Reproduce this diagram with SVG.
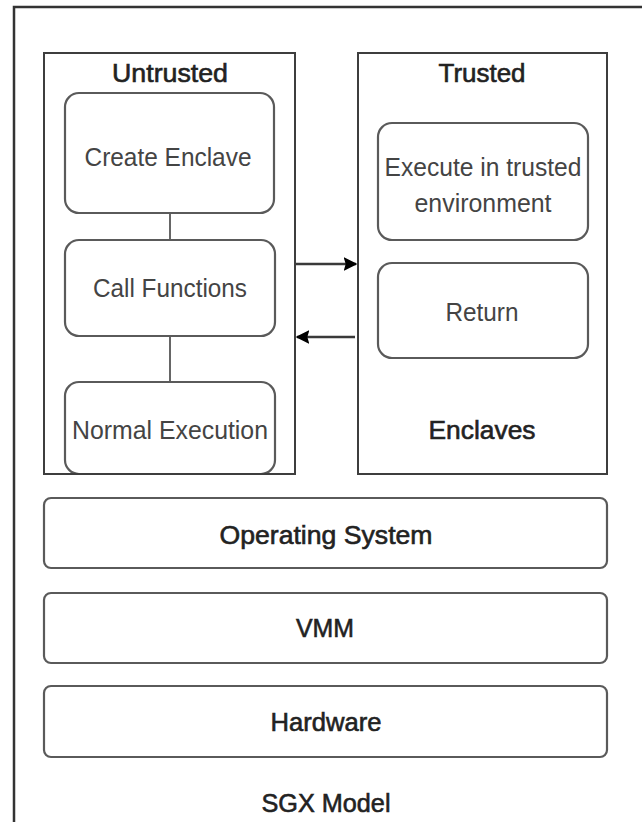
<svg xmlns="http://www.w3.org/2000/svg" width="642" height="822" viewBox="0 0 642 822">
<defs>
<style>
.frame{fill:none;stroke:#333;stroke-width:2.5}
.region{fill:none;stroke:#3e3e3e;stroke-width:2}
.box{fill:#fff;stroke:#5a5a5a;stroke-width:2.2}
.t{font-family:"Liberation Sans",Arial,sans-serif;font-size:26px;fill:#444;text-anchor:middle}
.b{font-family:"Liberation Sans",Arial,sans-serif;font-size:26px;fill:#222;stroke:#222;stroke-width:0.6;text-anchor:middle}
.link{stroke:#666;stroke-width:2;fill:none}
.arrow{stroke:#3a3a3a;stroke-width:2.5;fill:none}
</style>
<marker id="ah" viewBox="0 0 10 10" refX="9" refY="5" markerWidth="5.5" markerHeight="6.5" markerUnits="strokeWidth" orient="auto">
<path d="M0,0 L10,5 L0,10 L1.5,5 Z" fill="#000"/>
</marker>
</defs>
<rect width="642" height="822" fill="#fff"/>
<rect class="frame" x="14" y="7" width="650" height="840"/>

<g id="untrusted">
<rect class="region" x="44" y="53" width="251" height="421"/>
<text class="b" x="170" y="82" textLength="116" lengthAdjust="spacingAndGlyphs">Untrusted</text>
</g>
<g id="trusted">
<rect class="region" x="358" y="53" width="249" height="421"/>
<text class="b" x="482" y="82" textLength="87" lengthAdjust="spacingAndGlyphs">Trusted</text>
<text class="b" x="482" y="439" textLength="107" lengthAdjust="spacingAndGlyphs">Enclaves</text>
</g>

<g id="connectors">
<line class="link" x1="170" y1="213" x2="170" y2="240"/>
<line class="link" x1="170" y1="336" x2="170" y2="382"/>
<line class="arrow" x1="296" y1="264" x2="356" y2="264" marker-end="url(#ah)"/>
<line class="arrow" x1="355" y1="337" x2="297" y2="337" marker-end="url(#ah)"/>
</g>

<g id="create-enclave">
<rect class="box" x="65" y="93" width="209" height="120" rx="14"/>
<text class="t" x="168" y="166" textLength="167" lengthAdjust="spacingAndGlyphs">Create Enclave</text>
</g>
<g id="call-functions">
<rect class="box" x="65" y="240" width="210" height="96" rx="14"/>
<text class="t" x="170" y="297" textLength="154" lengthAdjust="spacingAndGlyphs">Call Functions</text>
</g>
<g id="normal-execution">
<rect class="box" x="65" y="382" width="210" height="92" rx="14"/>
<text class="t" x="170" y="439" textLength="196" lengthAdjust="spacingAndGlyphs">Normal Execution</text>
</g>
<line x1="44" y1="474" x2="295" y2="474" stroke="#3e3e3e" stroke-width="2"/>

<g id="execute-trusted">
<rect class="box" x="378" y="123" width="210" height="117" rx="14"/>
<text class="t" x="483" y="176" textLength="197" lengthAdjust="spacingAndGlyphs">Execute in trusted</text>
<text class="t" x="483" y="212" textLength="137" lengthAdjust="spacingAndGlyphs">environment</text>
</g>
<g id="return">
<rect class="box" x="378" y="263" width="210" height="95" rx="14"/>
<text class="t" x="482" y="321" textLength="73" lengthAdjust="spacingAndGlyphs">Return</text>
</g>

<g id="operating-system">
<rect class="box" x="44" y="498" width="563" height="70" rx="7"/>
<text class="b" x="326" y="544" textLength="213" lengthAdjust="spacingAndGlyphs">Operating System</text>
</g>
<g id="vmm">
<rect class="box" x="44" y="593" width="563" height="70" rx="7"/>
<text class="b" x="325" y="637" textLength="58" lengthAdjust="spacingAndGlyphs">VMM</text>
</g>
<g id="hardware">
<rect class="box" x="44" y="686" width="563" height="71" rx="7"/>
<text class="b" x="326" y="731" textLength="111" lengthAdjust="spacingAndGlyphs">Hardware</text>
</g>
<g id="sgx-model">
<text class="b" x="326" y="812" textLength="129" lengthAdjust="spacingAndGlyphs">SGX Model</text>
</g>
</svg>
